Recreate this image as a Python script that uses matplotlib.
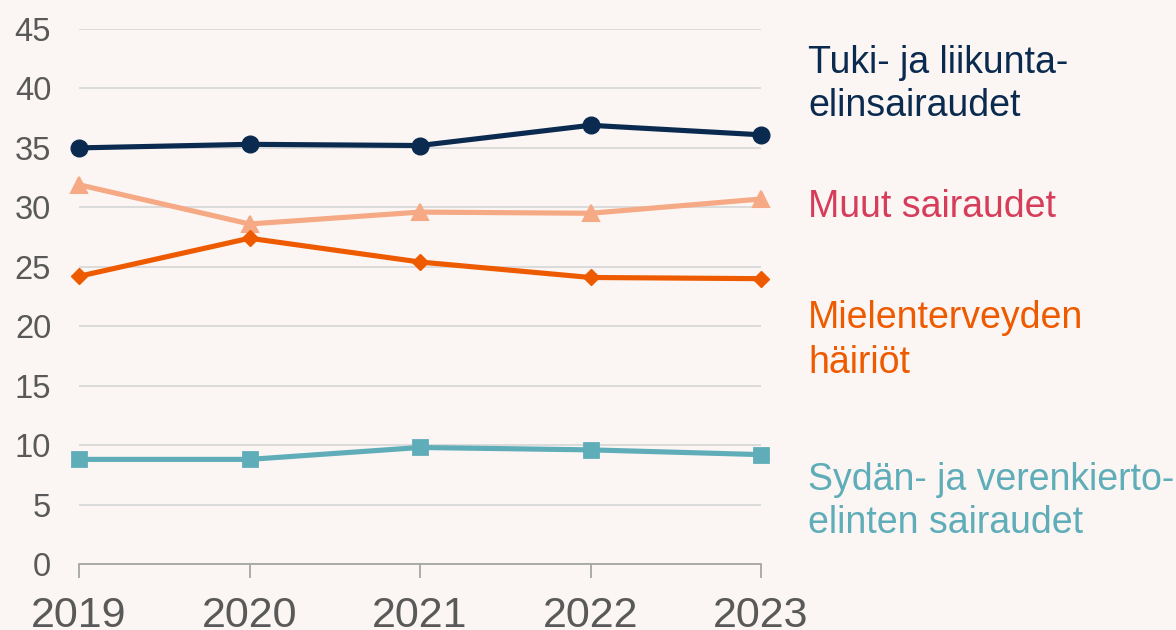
import matplotlib
matplotlib.use("Agg")
import matplotlib.pyplot as plt

years = [2019, 2020, 2021, 2022, 2023]
tuki = [35.0, 35.3, 35.2, 36.9, 36.1]
muut = [31.9, 28.6, 29.6, 29.5, 30.7]
mielen = [24.2, 27.4, 25.4, 24.1, 24.0]
sydan = [8.8, 8.8, 9.8, 9.6, 9.2]
yticks = [0, 5, 10, 15, 20, 25, 30, 35, 40, 45]

plt.rcParams['font.family'] = ['Liberation Sans', 'DejaVu Sans']

W, H = 1176, 630
bg = '#FBF6F3'
fig = plt.figure(figsize=(W / 100, H / 100), dpi=100, facecolor=bg)
ax = fig.add_axes([79 / W, 1 - 564 / H, (761 - 79) / W, (564 - 29) / H])
ax.set_facecolor(bg)

c_tuki = '#0B2A4F'
c_muut = '#F5A984'
c_mielen = '#EE5A00'
c_sydan = '#5EADB8'

lw = 3.7
ax.plot(years, tuki, color=c_tuki, lw=lw, marker='o', ms=12, clip_on=False, zorder=5)
ax.plot(years, muut, color=c_muut, lw=lw, marker='^', ms=12, mew=1.5,
        markeredgecolor=c_muut, clip_on=False, zorder=4)
ax.plot(years, mielen, color=c_mielen, lw=lw, marker='D', ms=8.5, clip_on=False, zorder=4)
ax.plot(years, sydan, color=c_sydan, lw=lw, marker='s', ms=10.5, mew=2,
        markeredgecolor=c_sydan, clip_on=False, zorder=4)

ax.set_xlim(2019, 2023)
ax.set_ylim(0, 45)
ax.set_yticks(yticks)
ax.set_xticks(years)
ax.set_xticklabels([str(y) for y in years])
ax.grid(axis='y', color='#D9D9D9', lw=1.3)
ax.set_axisbelow(True)
for s in ['left', 'right', 'top']:
    ax.spines[s].set_visible(False)
ax.spines['bottom'].set_color('#A6A6A6')
ax.spines['bottom'].set_linewidth(1.3)
ax.tick_params(axis='y', length=0, labelsize=23.5, labelcolor='#595959', pad=20)
ax.tick_params(axis='x', length=10, width=1.3, color='#A6A6A6', labelsize=31,
               labelcolor='#595959', pad=13, direction='out')

def label(lines, baselines, color):
    for t, yb in zip(lines, baselines):
        fig.text(808 / W, 1 - yb / H, t, color=color, fontsize=27, va='baseline', ha='left')

label(['Tuki- ja liikunta-', 'elinsairaudet'], [73, 116], c_tuki)
label(['Muut sairaudet'], [217], '#D63D5A')
label(['Mielenterveyden', 'häiriöt'], [328, 373], c_mielen)
label(['Sydän- ja verenkierto-', 'elinten sairaudet'], [490, 533], c_sydan)

fig.savefig('out.png', dpi=100, facecolor=bg)
